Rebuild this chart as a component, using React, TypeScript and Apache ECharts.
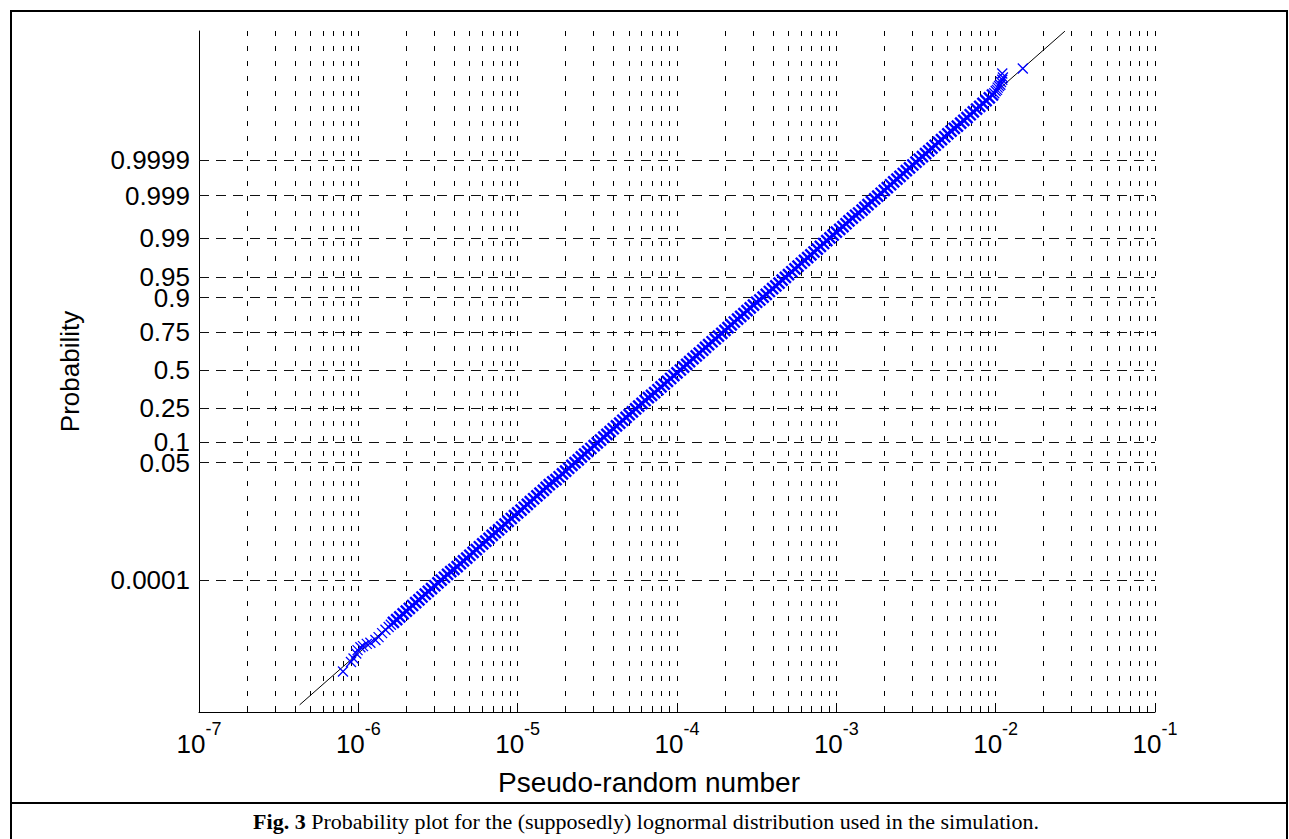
import React, { useEffect, useRef } from 'react';
import * as echarts from 'echarts';

// ---- data ----
// [pseudo-random value, normal quantile of the plotting position]
const lowerTail: [number, number][] = [
  [8.01e-7, -5.34], [8.99e-7, -5.17], [9.33e-7, -5.11], [9.7e-7, -5.02], [9.89e-7, -4.96],
  [1.03e-6, -4.91], [1.07e-6, -4.89], [1.13e-6, -4.85], [1.19e-6, -4.83], [1.28e-6, -4.78],
  [1.34e-6, -4.73], [1.41e-6, -4.66], [1.48e-6, -4.6], [1.55e-6, -4.55], [1.6e-6, -4.51],
];
const decadeE6: [number, number][] = [
  [1.66e-6, -4.47], [1.74e-6, -4.42], [1.82e-6, -4.37], [1.91e-6, -4.32], [2.0e-6, -4.27],
  [2.09e-6, -4.22], [2.19e-6, -4.17], [2.29e-6, -4.12], [2.4e-6, -4.07], [2.51e-6, -4.02],
  [2.63e-6, -3.97], [2.75e-6, -3.92], [2.88e-6, -3.87], [3.02e-6, -3.82], [3.16e-6, -3.77],
  [3.31e-6, -3.72], [3.47e-6, -3.67], [3.63e-6, -3.62], [3.8e-6, -3.57], [3.98e-6, -3.53],
  [4.17e-6, -3.48], [4.37e-6, -3.43], [4.57e-6, -3.38], [4.79e-6, -3.33], [5.01e-6, -3.28],
  [5.25e-6, -3.23], [5.5e-6, -3.18], [5.75e-6, -3.13], [6.03e-6, -3.08], [6.31e-6, -3.03],
  [6.61e-6, -2.98], [6.92e-6, -2.93], [7.24e-6, -2.88], [7.59e-6, -2.83], [7.94e-6, -2.78],
  [8.32e-6, -2.73], [8.71e-6, -2.68], [9.12e-6, -2.63], [9.55e-6, -2.58],
];
const decadeE5: [number, number][] = [
  [1.0e-5, -2.53], [1.05e-5, -2.48], [1.1e-5, -2.43], [1.15e-5, -2.38], [1.2e-5, -2.33],
  [1.26e-5, -2.28], [1.32e-5, -2.23], [1.38e-5, -2.18], [1.45e-5, -2.13], [1.51e-5, -2.08],
  [1.58e-5, -2.03], [1.66e-5, -1.98], [1.74e-5, -1.94], [1.82e-5, -1.89], [1.91e-5, -1.84],
  [2.0e-5, -1.79], [2.09e-5, -1.74], [2.19e-5, -1.69], [2.29e-5, -1.64], [2.4e-5, -1.59],
  [2.51e-5, -1.54], [2.63e-5, -1.49], [2.75e-5, -1.44], [2.88e-5, -1.39], [3.02e-5, -1.34],
  [3.16e-5, -1.29], [3.31e-5, -1.24], [3.47e-5, -1.19], [3.63e-5, -1.14], [3.8e-5, -1.09],
  [3.98e-5, -1.04], [4.17e-5, -0.99], [4.37e-5, -0.94], [4.57e-5, -0.89], [4.79e-5, -0.84],
  [5.01e-5, -0.79], [5.25e-5, -0.74], [5.5e-5, -0.69], [5.75e-5, -0.64], [6.03e-5, -0.59],
  [6.31e-5, -0.54], [6.61e-5, -0.49], [6.92e-5, -0.45], [7.24e-5, -0.4], [7.59e-5, -0.35],
  [7.94e-5, -0.3], [8.32e-5, -0.25], [8.71e-5, -0.2], [9.12e-5, -0.15], [9.55e-5, -0.1],
];
const decadeE4: [number, number][] = [
  [1.0e-4, -0.05], [1.05e-4, 0.0], [1.1e-4, 0.05], [1.15e-4, 0.1], [1.2e-4, 0.15],
  [1.26e-4, 0.2], [1.32e-4, 0.25], [1.38e-4, 0.3], [1.45e-4, 0.35], [1.51e-4, 0.4],
  [1.58e-4, 0.45], [1.66e-4, 0.5], [1.74e-4, 0.55], [1.82e-4, 0.6], [1.91e-4, 0.65],
  [2.0e-4, 0.7], [2.09e-4, 0.75], [2.19e-4, 0.8], [2.29e-4, 0.85], [2.4e-4, 0.9],
  [2.51e-4, 0.95], [2.63e-4, 1.0], [2.75e-4, 1.05], [2.88e-4, 1.1], [3.02e-4, 1.15],
  [3.16e-4, 1.2], [3.31e-4, 1.24], [3.47e-4, 1.29], [3.63e-4, 1.34], [3.8e-4, 1.39],
  [3.98e-4, 1.44], [4.17e-4, 1.49], [4.37e-4, 1.54], [4.57e-4, 1.59], [4.79e-4, 1.64],
  [5.01e-4, 1.69], [5.25e-4, 1.74], [5.5e-4, 1.79], [5.75e-4, 1.84], [6.03e-4, 1.89],
  [6.31e-4, 1.94], [6.61e-4, 1.99], [6.92e-4, 2.04], [7.24e-4, 2.09], [7.59e-4, 2.14],
  [7.94e-4, 2.19], [8.32e-4, 2.24], [8.71e-4, 2.29], [9.12e-4, 2.34], [9.55e-4, 2.39],
];
const decadeE3: [number, number][] = [
  [1.0e-3, 2.44], [1.05e-3, 2.49], [1.1e-3, 2.54], [1.15e-3, 2.59], [1.2e-3, 2.64],
  [1.26e-3, 2.69], [1.32e-3, 2.74], [1.38e-3, 2.78], [1.45e-3, 2.83], [1.51e-3, 2.88],
  [1.58e-3, 2.93], [1.66e-3, 2.98], [1.74e-3, 3.03], [1.82e-3, 3.08], [1.91e-3, 3.13],
  [2.0e-3, 3.18], [2.09e-3, 3.23], [2.19e-3, 3.28], [2.29e-3, 3.33], [2.4e-3, 3.38],
  [2.51e-3, 3.43], [2.63e-3, 3.48], [2.75e-3, 3.53], [2.88e-3, 3.58], [3.02e-3, 3.63],
  [3.16e-3, 3.68], [3.31e-3, 3.73], [3.47e-3, 3.78], [3.63e-3, 3.83], [3.8e-3, 3.88],
  [3.98e-3, 3.93], [4.17e-3, 3.98], [4.37e-3, 4.03], [4.57e-3, 4.08], [4.79e-3, 4.13],
  [5.01e-3, 4.18], [5.25e-3, 4.23], [5.5e-3, 4.28], [5.75e-3, 4.32], [6.03e-3, 4.37],
  [6.31e-3, 4.42], [6.61e-3, 4.47], [6.92e-3, 4.52], [7.24e-3, 4.57], [7.59e-3, 4.62],
  [7.94e-3, 4.67], [8.32e-3, 4.72], [8.71e-3, 4.77], [9.12e-3, 4.82], [9.55e-3, 4.87],
];
const upperTail: [number, number][] = [
  [9.8e-3, 4.9], [1.0e-2, 4.94], [1.02e-2, 4.96], [1.03e-2, 5.0], [1.05e-2, 5.03],
  [1.07e-2, 5.05], [1.08e-2, 5.1], [1.1e-2, 5.14], [1.11e-2, 5.18], [1.1e-2, 5.25],
  [1.48e-2, 5.34],
];
// fitted lognormal reference line (end points)
const fitLine: [number, number][] = [[4.28e-7, -5.93], [2.72e-2, 6.0]];
// probability tick labels of the y axis
const yTickProbs = [0.0001, 0.05, 0.1, 0.25, 0.5, 0.75, 0.9, 0.95, 0.99, 0.999, 0.9999];
const xRange = [1e-7, 1e-1];
const zRange = [-6.056, 6.003];

const FONT = '"Liberation Sans", Arial, Helvetica, sans-serif';
const SERIF = '"Liberation Serif", "Times New Roman", Times, serif';

// inverse of the standard normal CDF (Acklam) – maps probability to axis position
function normInv(p: number): number {
  const a = [-3.969683028665376e1, 2.209460984245205e2, -2.759285104469687e2, 1.38357751867269e2, -3.066479806614716e1, 2.506628277459239];
  const b = [-5.447609879822406e1, 1.615858368580409e2, -1.556989798598866e2, 6.680131188771972e1, -1.328068155288572e1];
  const c = [-7.784894002430293e-3, -3.223964580411365e-1, -2.400758277161838, -2.549732539343734, 4.374664141464968, 2.938163982698783];
  const d = [7.784695709041462e-3, 3.224671290700398e-1, 2.445134137142996, 3.754408661907416];
  const plow = 0.02425;
  const phigh = 1 - plow;
  if (p < plow) {
    const q = Math.sqrt(-2 * Math.log(p));
    return (((((c[0] * q + c[1]) * q + c[2]) * q + c[3]) * q + c[4]) * q + c[5]) /
      ((((d[0] * q + d[1]) * q + d[2]) * q + d[3]) * q + 1);
  }
  if (p <= phigh) {
    const q = p - 0.5;
    const r = q * q;
    return ((((((a[0] * r + a[1]) * r + a[2]) * r + a[3]) * r + a[4]) * r + a[5]) * q) /
      (((((b[0] * r + b[1]) * r + b[2]) * r + b[3]) * r + b[4]) * r + 1);
  }
  const q = Math.sqrt(-2 * Math.log(1 - p));
  return -(((((c[0] * q + c[1]) * q + c[2]) * q + c[3]) * q + c[4]) * q + c[5]) /
    ((((d[0] * q + d[1]) * q + d[2]) * q + d[3]) * q + 1);
}

const CROSS = 'path://M0,0L10,10M10,0L0,10';

export default function App() {
  const ref = useRef<HTMLDivElement>(null);

  useEffect(() => {
    if (!ref.current) return;
    const chart = echarts.init(ref.current, undefined, { renderer: 'svg' });
    const body = [...decadeE6, ...decadeE5, ...decadeE4, ...decadeE3];
    const tails = [...lowerTail, ...upperTail];
    const gridStyleV = { type: [5, 10] as number[], color: '#000', width: 1 };

    const option: any = {
      animation: false,
      backgroundColor: '#ffffff',
      grid: { left: 199, right: 134, top: 31, bottom: 127, containLabel: false },
      xAxis: {
        type: 'log',
        logBase: 10,
        min: xRange[0],
        max: xRange[1],
        name: 'Pseudo-random number',
        nameLocation: 'middle',
        nameGap: 56,
        nameTextStyle: { fontSize: 28, fontFamily: FONT, color: '#000', padding: [0, 56, 0, 0] },
        axisLine: { show: true, onZero: false, lineStyle: { color: '#000', width: 1 } },
        axisTick: { show: true, inside: true, length: 9, lineStyle: { color: '#000', width: 1 } },
        minorTick: { show: true, splitNumber: 9, length: 5, lineStyle: { color: '#000', width: 1 } },
        axisLabel: {
          show: true,
          margin: 8,
          showMinLabel: true,
          showMaxLabel: true,
          color: '#000',
          fontFamily: FONT,
          formatter: (v: number) => `{b|10}{s|${Math.round(Math.log10(v))}}`,
          rich: {
            b: { fontSize: 26, fontFamily: FONT, color: '#000', verticalAlign: 'bottom', lineHeight: 26 },
            s: { fontSize: 18, fontFamily: FONT, color: '#000', verticalAlign: 'top', lineHeight: 37 },
          },
        },
        splitLine: { show: true, lineStyle: gridStyleV },
        minorSplitLine: { show: true, lineStyle: gridStyleV },
      },
      yAxis: {
        type: 'value',
        min: zRange[0],
        max: zRange[1],
        name: 'Probability',
        nameLocation: 'middle',
        nameRotate: 90,
        nameGap: 116,
        nameTextStyle: { fontSize: 26, fontFamily: FONT, color: '#000' },
        axisLine: { show: true, onZero: false, lineStyle: { color: '#000', width: 1 } },
        axisTick: { show: false },
        axisLabel: { show: false },
        splitLine: { show: false },
      },
      series: [
        {
          type: 'line',
          data: fitLine,
          symbol: 'none',
          z: 2,
          lineStyle: { color: '#000', width: 1 },
          silent: true,
          markLine: {
            silent: true,
            z: 1,
            symbol: ['none', 'none'],
            animation: false,
            lineStyle: { type: [10, 7], color: '#111', width: 1 },
            label: {
              show: true,
              position: 'start',
              distance: 9,
              fontSize: 26,
              lineHeight: 18,
              fontFamily: FONT,
              color: '#000',
              formatter: (p: any) => p.name,
            },
            emphasis: { disabled: true },
            data: yTickProbs.map((p) => ({ yAxis: normInv(p), name: String(p) })),
          },
        },
        {
          type: 'scatter',
          data: body,
          z: 3,
          silent: true,
          symbol: CROSS,
          symbolSize: 11,
          itemStyle: { color: '#0000ff', borderColor: '#0000ff', borderWidth: 2.4, opacity: 1 },
        },
        {
          type: 'scatter',
          data: tails,
          z: 3,
          silent: true,
          symbol: CROSS,
          symbolSize: 10,
          itemStyle: { color: '#0000ff', borderColor: '#0000ff', borderWidth: 1.3, opacity: 1 },
        },
      ],
      graphic: [
        {
          type: 'rect',
          silent: true,
          z: 10,
          shape: { x: 11, y: 11, width: 1276, height: 792 },
          style: { fill: 'none', stroke: '#000', lineWidth: 2 },
        },
        {
          type: 'rect',
          silent: true,
          z: 10,
          shape: { x: 11, y: 803, width: 1276, height: 60 },
          style: { fill: 'none', stroke: '#000', lineWidth: 2 },
        },
        {
          type: 'text',
          silent: true,
          z: 10,
          x: 646,
          y: 821,
          style: {
            text: '{b|Fig. 3} Probability plot for the (supposedly) lognormal distribution used in the simulation.',
            fontSize: 22,
            fontFamily: SERIF,
            fill: '#000',
            align: 'center',
            verticalAlign: 'middle',
            rich: { b: { fontSize: 22, fontFamily: SERIF, fontWeight: 'bold', fill: '#000' } },
          },
        },
      ],
    };

    chart.setOption(option);
    return () => chart.dispose();
  }, []);

  return (
    <div
      ref={ref}
      style={{ position: 'fixed', left: 0, top: 0, width: 1289, height: 839, background: '#fff' }}
    />
  );
}
